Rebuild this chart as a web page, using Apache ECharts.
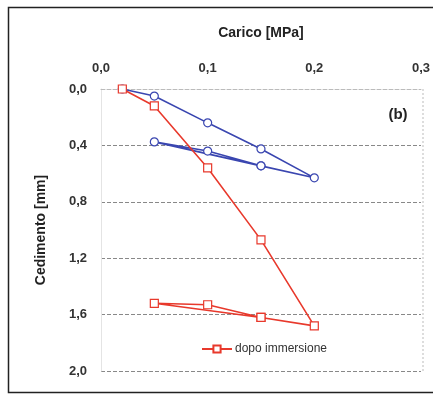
<!DOCTYPE html>
<html>
<head>
<meta charset="utf-8">
<script src="https://cdn.jsdelivr.net/npm/echarts@6/dist/echarts.min.js"></script>
<style>
  html, body { margin: 0; padding: 0; background: #fff; }
  #chart { width: 433px; height: 394px; }
</style>
</head>
<body>
<div id="chart"></div>
<script>
// load cycles: loading, unloading, then reloading to 0.15 (carico in MPa, cedimento in mm)
const caricoPrima = [0.02, 0.05, 0.1, 0.15, 0.2, 0.15, 0.1, 0.05, 0.15];
const cedimentoPrima = [0, 0.05, 0.24, 0.425, 0.63, 0.545, 0.44, 0.375, 0.545];
const caricoDopo = [0.02, 0.05, 0.1, 0.15, 0.2, 0.15, 0.1, 0.05, 0.15];
const cedimentoDopo = [0, 0.12, 0.56, 1.07, 1.68, 1.62, 1.53, 1.52, 1.62];

const comma = v => v.toFixed(1).replace('.', ',');
const pairs = (xs, ys) => xs.map((x, i) => [x, ys[i]]);
const font = 'Liberation Sans, Arial, sans-serif';

const chart = echarts.init(document.getElementById('chart'));
chart.setOption({
  animation: false,
  textStyle: { fontFamily: font },
  grid: { left: 101, right: 10, top: 89, bottom: 23 },
  graphic: [
    { type: 'rect', shape: { x: 8.5, y: 7.5, width: 440, height: 385 },
      style: { fill: 'none', stroke: '#222', lineWidth: 1.5 } },
    { type: 'line', shape: { x1: 423, y1: 89, x2: 423, y2: 371 },
      style: { stroke: '#bbb', lineDash: [2, 2], lineWidth: 1 } },
    { type: 'text', x: 398, y: 115,
      style: { text: '(b)', font: 'bold 15px ' + font, fill: '#222',
               align: 'center', verticalAlign: 'middle' } }
  ],
  legend: {
    data: ['dopo immersione'],
    left: 196, top: 338,
    itemWidth: 30, itemHeight: 9, itemGap: 4,
    textStyle: { fontSize: 12, color: '#333', padding: [0, 0, 0, -2] }
  },
  xAxis: {
    type: 'value', position: 'top',
    min: 0, max: 0.3, interval: 0.1,
    name: 'Carico [MPa]', nameLocation: 'middle', nameGap: 49,
    nameTextStyle: { fontSize: 14, fontWeight: 'bold', color: '#222' },
    axisLine: { lineStyle: { color: '#bbb', type: 'dashed', width: 1 } },
    axisTick: { show: false },
    axisLabel: { formatter: comma, fontSize: 13, fontWeight: 'bold', color: '#333', margin: 14 },
    splitLine: { show: false }
  },
  yAxis: {
    type: 'value', inverse: true,
    min: 0, max: 2, interval: 0.4,
    name: 'Cedimento [mm]', nameLocation: 'middle', nameGap: 53,
    nameTextStyle: { fontSize: 14, fontWeight: 'bold', color: '#222' },
    axisLine: { show: true, lineStyle: { color: '#e4e4e4', width: 1 } },
    axisTick: { show: false },
    axisLabel: { formatter: comma, fontSize: 13, fontWeight: 'bold', color: '#333', margin: 14 },
    splitLine: { lineStyle: { color: '#888', type: 'dashed', width: 1 } }
  },
  series: [
    {
      name: 'prima immersione', type: 'line',
      data: pairs(caricoPrima, cedimentoPrima),
      symbol: 'circle', symbolSize: 8,
      itemStyle: { color: '#fff', borderColor: '#3a46b0', borderWidth: 1.2 },
      lineStyle: { color: '#3a46b0', width: 1.6 }
    },
    {
      name: 'dopo immersione', type: 'line',
      data: pairs(caricoDopo, cedimentoDopo),
      symbol: 'rect', symbolSize: 8,
      itemStyle: { color: '#fff', borderColor: '#e8392c', borderWidth: 1.2 },
      lineStyle: { color: '#e8392c', width: 1.6 }
    }
  ]
});
</script>
</body>
</html>
